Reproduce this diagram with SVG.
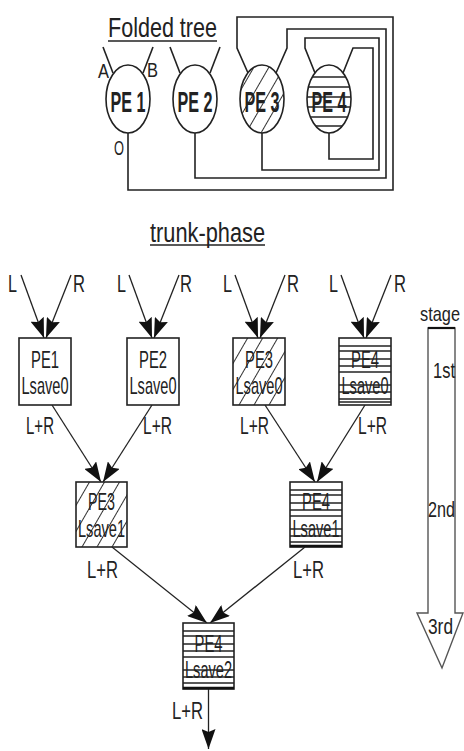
<svg xmlns="http://www.w3.org/2000/svg" width="464" height="751" viewBox="0 0 464 751">
<style>
text{font-family:"Liberation Sans Narrow","Liberation Sans",Arial,sans-serif;fill:#222}
.ln{stroke:#222;stroke-width:1.6;fill:none}
.ed{stroke:#222;stroke-width:1.3;fill:none}
.box{stroke:#222;stroke-width:1.6}
.hl{stroke:#222;stroke-width:1.3}
.pe{font-size:30px;font-weight:bold;text-anchor:middle}
.bt{font-size:24px;text-anchor:middle}
.lb{font-size:24px}
</style>
<defs>
<pattern id="diag" patternUnits="userSpaceOnUse" width="13" height="13" patternTransform="rotate(30)">
<rect width="13" height="13" fill="#fff"/>
<line x1="6.5" y1="0" x2="6.5" y2="13" stroke="#333" stroke-width="1"/>
</pattern>
<marker id="ah" markerUnits="userSpaceOnUse" markerWidth="20" markerHeight="14" refX="20" refY="7" orient="auto">
<path d="M0,0 L20,7 L0,14 L3,7 z" fill="#111"/>
</marker>
<clipPath id="c4"><ellipse cx="329" cy="99" rx="22" ry="34"/></clipPath>
</defs>

<!-- Folded tree -->
<g id="title-folded">
<text x="108" y="37" style="font-size:28px" textLength="109" lengthAdjust="spacingAndGlyphs">Folded tree</text>
<line x1="108" y1="41" x2="217" y2="41" stroke="#222" stroke-width="1.5"/>
</g>

<g id="folded-connectors">
<line class="ln" x1="103" y1="47" x2="113" y2="73"/>
<line class="ln" x1="153" y1="47" x2="143" y2="73"/>
<line class="ln" x1="170" y1="47" x2="180" y2="73"/>
<line class="ln" x1="220" y1="47" x2="210" y2="73"/>
<polyline class="ln" points="128,133 128,190 393,190 393,17 237,17 237,48 248,73"/>
<polyline class="ln" points="195,133 195,178 386,178 386,29 287,29 287,48 276,73"/>
<polyline class="ln" points="262,133 262,170 379,170 379,38 305,38 305,48 315,73"/>
<polyline class="ln" points="329,133 329,159 373,159 373,48 353,48 343,73"/>
</g>

<g id="fpe1">
<ellipse cx="128" cy="99" rx="22" ry="34" fill="#fff" stroke="#222" stroke-width="1.6"/>
<text class="pe" x="128" y="112" textLength="35" lengthAdjust="spacingAndGlyphs">PE 1</text>
</g>
<g id="fpe2">
<ellipse cx="195" cy="99" rx="22" ry="34" fill="#fff" stroke="#222" stroke-width="1.6"/>
<text class="pe" x="195" y="112" textLength="35" lengthAdjust="spacingAndGlyphs">PE 2</text>
</g>
<g id="fpe3">
<ellipse cx="262" cy="99" rx="22" ry="34" fill="url(#diag)" stroke="#222" stroke-width="1.6"/>
<text class="pe" x="262" y="112" textLength="35" lengthAdjust="spacingAndGlyphs">PE 3</text>
</g>
<g id="fpe4">
<ellipse cx="329" cy="99" rx="22" ry="34" fill="#fff"/>
<g clip-path="url(#c4)">
<line class="hl" x1="300" y1="77" x2="360" y2="77"/>
<line class="hl" x1="300" y1="87" x2="360" y2="87"/>
<line class="hl" x1="300" y1="107" x2="360" y2="107"/>
<line class="hl" x1="300" y1="117" x2="360" y2="117"/>
<line class="hl" x1="300" y1="126" x2="360" y2="126"/>
</g>
<text class="pe" x="329" y="112" textLength="35" lengthAdjust="spacingAndGlyphs">PE 4</text>
<line class="hl" x1="307" y1="97" x2="351" y2="97"/>
<ellipse cx="329" cy="99" rx="22" ry="34" fill="none" stroke="#222" stroke-width="1.6"/>
</g>

<g id="fold-labels">
<text x="98" y="78" style="font-size:20px" textLength="11" lengthAdjust="spacingAndGlyphs">A</text>
<text x="147" y="77" style="font-size:20px" textLength="11" lengthAdjust="spacingAndGlyphs">B</text>
<text x="114" y="155" style="font-size:20px" textLength="10" lengthAdjust="spacingAndGlyphs">O</text>
</g>

<!-- trunk-phase -->
<g id="title-trunk">
<text x="150" y="242" style="font-size:27px" textLength="115" lengthAdjust="spacingAndGlyphs">trunk-phase</text>
<line x1="150" y1="245" x2="265" y2="245" stroke="#222" stroke-width="1.3"/>
</g>

<g id="trunk-connectors">
<line class="ed" x1="21" y1="275" x2="44" y2="338" marker-end="url(#ah)"/>
<line class="ed" x1="71" y1="275" x2="46" y2="338" marker-end="url(#ah)"/>
<line class="ed" x1="129" y1="275" x2="152" y2="338" marker-end="url(#ah)"/>
<line class="ed" x1="179" y1="275" x2="154" y2="338" marker-end="url(#ah)"/>
<line class="ed" x1="235" y1="275" x2="258" y2="338" marker-end="url(#ah)"/>
<line class="ed" x1="285" y1="275" x2="260" y2="338" marker-end="url(#ah)"/>
<line class="ed" x1="341" y1="275" x2="364" y2="338" marker-end="url(#ah)"/>
<line class="ed" x1="391" y1="275" x2="366" y2="338" marker-end="url(#ah)"/>
<line class="ed" x1="52" y1="405" x2="101" y2="482" marker-end="url(#ah)"/>
<line class="ed" x1="152" y1="405" x2="103" y2="482" marker-end="url(#ah)"/>
<line class="ed" x1="265" y1="405" x2="315" y2="482" marker-end="url(#ah)"/>
<line class="ed" x1="365" y1="405" x2="317" y2="482" marker-end="url(#ah)"/>
<line class="ed" x1="112" y1="547" x2="207" y2="623" marker-end="url(#ah)"/>
<line class="ed" x1="305" y1="547" x2="210" y2="623" marker-end="url(#ah)"/>
<line class="ed" x1="208.5" y1="689" x2="208.5" y2="749" marker-end="url(#ah)"/>
</g>

<g id="io-labels">
<text class="lb" x="8" y="292" textLength="9" lengthAdjust="spacingAndGlyphs">L</text>
<text class="lb" x="73" y="292" textLength="12" lengthAdjust="spacingAndGlyphs">R</text>
<text class="lb" x="117" y="292" textLength="9" lengthAdjust="spacingAndGlyphs">L</text>
<text class="lb" x="180" y="292" textLength="12" lengthAdjust="spacingAndGlyphs">R</text>
<text class="lb" x="223" y="292" textLength="9" lengthAdjust="spacingAndGlyphs">L</text>
<text class="lb" x="287" y="292" textLength="12" lengthAdjust="spacingAndGlyphs">R</text>
<text class="lb" x="329" y="292" textLength="9" lengthAdjust="spacingAndGlyphs">L</text>
<text class="lb" x="394" y="292" textLength="12" lengthAdjust="spacingAndGlyphs">R</text>
<text class="lb" x="26" y="434" textLength="28" lengthAdjust="spacingAndGlyphs">L+R</text>
<text class="lb" x="143" y="434" textLength="29" lengthAdjust="spacingAndGlyphs">L+R</text>
<text class="lb" x="240" y="434" textLength="29" lengthAdjust="spacingAndGlyphs">L+R</text>
<text class="lb" x="358" y="434" textLength="29" lengthAdjust="spacingAndGlyphs">L+R</text>
<text class="lb" x="87" y="578" textLength="31" lengthAdjust="spacingAndGlyphs">L+R</text>
<text class="lb" x="293" y="578" textLength="31" lengthAdjust="spacingAndGlyphs">L+R</text>
<text class="lb" x="172" y="719" textLength="31" lengthAdjust="spacingAndGlyphs">L+R</text>
</g>

<g id="t-pe1">
<rect class="box" x="19" y="338" width="52" height="67" fill="#fff"/>
<text class="bt" x="45" y="368" textLength="28" lengthAdjust="spacingAndGlyphs">PE1</text>
<text class="bt" x="45" y="394" textLength="47" lengthAdjust="spacingAndGlyphs">Lsave0</text>
</g>
<g id="t-pe2">
<rect class="box" x="127" y="338" width="52" height="67" fill="#fff"/>
<text class="bt" x="153" y="368" textLength="28" lengthAdjust="spacingAndGlyphs">PE2</text>
<text class="bt" x="153" y="394" textLength="47" lengthAdjust="spacingAndGlyphs">Lsave0</text>
</g>
<g id="t-pe3">
<rect class="box" x="233" y="338" width="52" height="67" fill="url(#diag)"/>
<text class="bt" x="259" y="368" textLength="28" lengthAdjust="spacingAndGlyphs">PE3</text>
<text class="bt" x="259" y="394" textLength="47" lengthAdjust="spacingAndGlyphs">Lsave0</text>
</g>
<g id="t-pe4">
<rect class="box" x="339" y="338" width="52" height="67" fill="#fff"/>
<text class="bt" x="365" y="368" textLength="28" lengthAdjust="spacingAndGlyphs">PE4</text>
<text class="bt" x="365" y="394" textLength="47" lengthAdjust="spacingAndGlyphs">Lsave0</text>
<g class="hl">
<line x1="339" y1="346" x2="391" y2="346"/>
<line x1="339" y1="351" x2="391" y2="351"/>
<line x1="339" y1="359" x2="391" y2="359"/>
<line x1="339" y1="366" x2="391" y2="366"/>
<line x1="339" y1="372" x2="391" y2="372"/>
<line x1="339" y1="385" x2="391" y2="385"/>
<line x1="339" y1="392" x2="391" y2="392"/>
<line x1="339" y1="399" x2="391" y2="399"/>
<line x1="339" y1="402" x2="391" y2="402"/>
</g>
</g>

<g id="t-pe3-1">
<rect class="box" x="76" y="482" width="51" height="65" fill="url(#diag)"/>
<text class="bt" x="101.5" y="510" textLength="27" lengthAdjust="spacingAndGlyphs">PE3</text>
<text class="bt" x="101.5" y="537" textLength="47" lengthAdjust="spacingAndGlyphs">Lsave1</text>
</g>
<g id="t-pe4-1">
<rect class="box" x="290" y="482" width="52" height="65" fill="#fff"/>
<text class="bt" x="316" y="510" textLength="28" lengthAdjust="spacingAndGlyphs">PE4</text>
<text class="bt" x="316" y="537" textLength="47" lengthAdjust="spacingAndGlyphs">Lsave1</text>
<g class="hl">
<line x1="290" y1="490" x2="342" y2="490"/>
<line x1="290" y1="495" x2="342" y2="495"/>
<line x1="290" y1="503" x2="342" y2="503"/>
<line x1="290" y1="510" x2="342" y2="510"/>
<line x1="290" y1="516" x2="342" y2="516"/>
<line x1="290" y1="529" x2="342" y2="529"/>
<line x1="290" y1="536" x2="342" y2="536"/>
<line x1="290" y1="542" x2="342" y2="542"/>
</g>
<line x1="290" y1="546" x2="342" y2="546" stroke="#111" stroke-width="2.5"/>
</g>

<g id="t-pe4-2">
<rect class="box" x="183" y="623" width="51" height="66" fill="#fff"/>
<text class="bt" x="208.5" y="652" textLength="28" lengthAdjust="spacingAndGlyphs">PE4</text>
<text class="bt" x="208.5" y="678" textLength="47" lengthAdjust="spacingAndGlyphs">Lsave2</text>
<g class="hl">
<line x1="183" y1="631" x2="234" y2="631"/>
<line x1="183" y1="636" x2="234" y2="636"/>
<line x1="183" y1="644" x2="234" y2="644"/>
<line x1="183" y1="651" x2="234" y2="651"/>
<line x1="183" y1="657" x2="234" y2="657"/>
<line x1="183" y1="670" x2="234" y2="670"/>
<line x1="183" y1="677" x2="234" y2="677"/>
<line x1="183" y1="683" x2="234" y2="683"/>
</g>
<line x1="183" y1="688" x2="234" y2="688" stroke="#111" stroke-width="2.5"/>
</g>

<g id="stage">
<path d="M428,328 H455 V613 H463 L442,668 L417,613 H428 Z" fill="none" stroke="#555" stroke-width="1.4"/>
<line x1="428" y1="328" x2="455" y2="328" stroke="#111" stroke-width="2.2"/>
<text transform="translate(420,321) scale(1,1.2)" style="font-size:17px" textLength="40" lengthAdjust="spacingAndGlyphs">stage</text>
<text x="433" y="378" style="font-size:22px" textLength="22" lengthAdjust="spacingAndGlyphs">1st</text>
<text x="428" y="517" style="font-size:22px" textLength="27" lengthAdjust="spacingAndGlyphs">2nd</text>
<text x="428" y="634" style="font-size:22px" textLength="25" lengthAdjust="spacingAndGlyphs">3rd</text>
</g>
</svg>
